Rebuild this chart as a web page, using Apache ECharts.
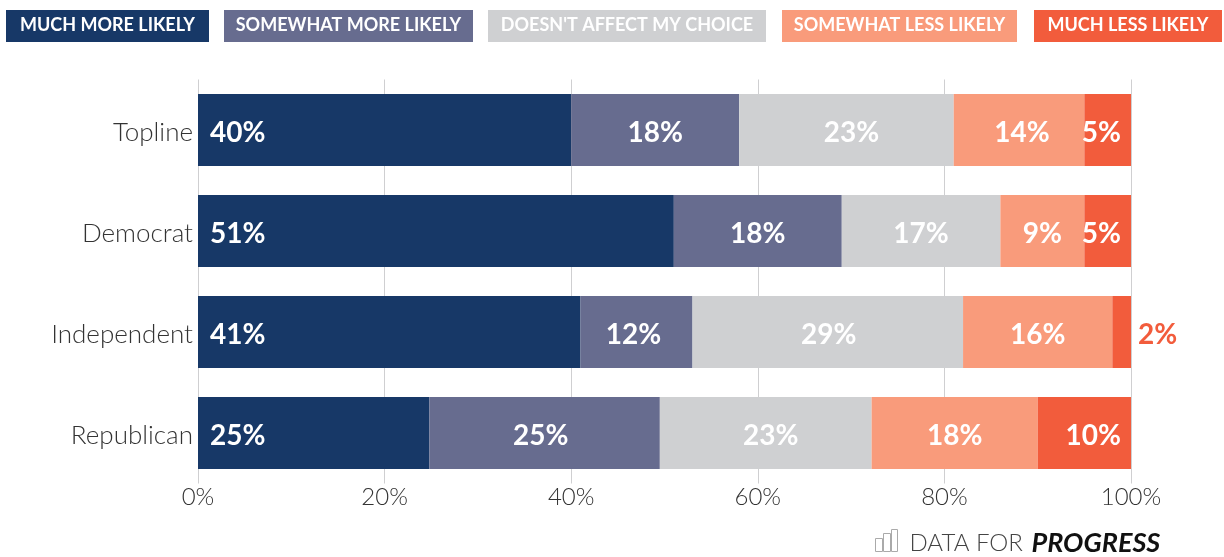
<!DOCTYPE html>
<html><head><meta charset="utf-8">
<style>html,body{margin:0;padding:0;background:#fff}#c{width:1224px;height:557px}</style>
<script src="https://cdn.jsdelivr.net/npm/echarts@6/dist/echarts.min.js"></script>
</head><body><div id="c"></div>
<script>
const categories = ['Topline','Democrat','Independent','Republican'];
const seriesNames = ['MUCH MORE LIKELY','SOMEWHAT MORE LIKELY',"DOESN'T AFFECT MY CHOICE",'SOMEWHAT LESS LIKELY','MUCH LESS LIKELY'];
const colors = ['#173867','#676c8f','#cfd0d2','#f99b7b','#f25c3c'];
const muchMore = [40,51,41,24.8];
const someMore = [18,18,12,24.7];
const noEffect = [23,17,29,22.7];
const someLess = [14,9,16,17.8];
const muchLess = [5,5,2,10];
const tickLabels = [0,20,40,60,80,100];
const allValues = [muchMore,someMore,noEffect,someLess,muchLess];

const legendBoxes = [[6,203],[224,249],[488,278],[782,235],[1034,188]];
const FONT = 'Lato';
const chart = echarts.init(document.getElementById('c'),null,{renderer:'canvas'});

// small label nudges seen in the original, keyed "series-row"
const nudge = {'1-2':-3,'1-3':-4,'2-0':5,'2-2':1,'2-3':5,'3-0':3};

const legendGraphics = seriesNames.map((n,i)=>({
  type:'group', left:legendBoxes[i][0], top:10, silent:true,
  children:[
    {type:'rect',shape:{x:0,y:0,width:legendBoxes[i][1],height:32},style:{fill:colors[i]}},
    {type:'text',style:{x:legendBoxes[i][1]/2,y:15,text:n,fill:'#fff',font:'700 18px '+FONT,textAlign:'center',textVerticalAlign:'middle'}}
  ]
}));
const logoBars = [[0,9,7,13],[8,4,7,18],[16,0,6,22]];
const logo = {
  type:'group', left:873, top:527, silent:true,
  children:[
    ...logoBars.map(b=>({type:'rect',shape:{x:b[0],y:b[1],width:b[2],height:b[3]},style:{fill:'none',stroke:'#aaa',lineWidth:1}})),
    {type:'text',style:{x:34,y:2,text:'DATA FOR',fill:'#444',font:'300 24px '+FONT}},
    {type:'text',style:{x:156,y:0,text:'PROGRESS',fill:'#111',font:'italic 700 27px '+FONT}}
  ]
};

chart.setOption({
  animation:false,
  backgroundColor:'#fff',
  grid:{left:198,right:93,top:79.5,height:404,containLabel:false},
  xAxis:{type:'value',min:0,max:100,interval:20,
    axisLine:{show:false},axisTick:{show:false},
    splitLine:{show:true,lineStyle:{color:'#cfcfd1',width:1}},
    axisLabel:{formatter:v=>tickLabels.includes(v)?v+'%':'',color:'#333',fontFamily:FONT,fontWeight:300,fontSize:24,margin:1,verticalAlign:'top',lineHeight:26}},
  yAxis:{type:'category',inverse:true,data:categories,
    axisLine:{show:false},axisTick:{show:false},
    axisLabel:{margin:5,formatter:v=>'{a|'+v+'}',
      rich:{a:{color:'#333',fontFamily:FONT,fontWeight:300,fontSize:26,padding:[5,0,0,0]}}}},
  series:seriesNames.map((n,i)=>({
    name:n,type:'bar',stack:'a',barWidth:72,
    itemStyle:{color:colors[i]},
    label:{show:true,position:i===0?'insideLeft':(i===4?'insideRight':'inside'),distance:i===4?10:12,color:'#fff',fontFamily:FONT,fontWeight:700,fontSize:28,
      offset:[0,3],formatter:p=>Math.round(p.value)+'%'},
    data:allValues[i].map((v,j)=>{
      if(i===4&&v<4){return {value:v,label:{position:'right',distance:7,color:colors[4],offset:[0,3]}};}
      const dx = nudge[i+'-'+j];
      return dx?{value:v,label:{offset:[dx,3]}}:v;
    })
  })),
  graphic:[...legendGraphics,logo]
});
</script></body></html>
